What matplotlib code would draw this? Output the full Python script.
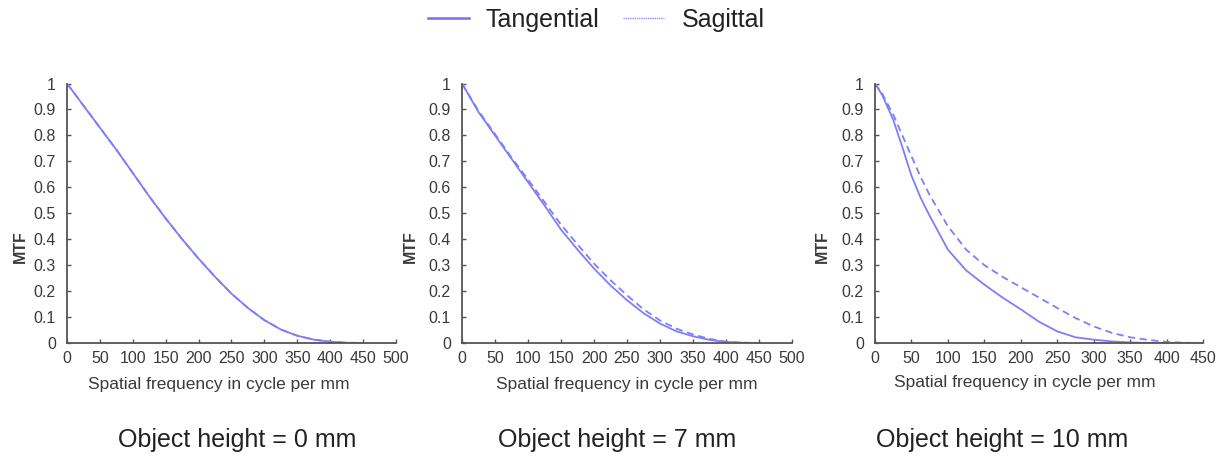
import matplotlib
matplotlib.use("Agg")
import matplotlib.pyplot as plt
from matplotlib.lines import Line2D

plt.rcParams['font.family'] = ['Liberation Sans', 'DejaVu Sans']

freq = [0, 25, 50, 75, 100, 125, 150, 175, 200, 225, 250, 275, 300, 325, 350, 375, 400, 425, 450]

tan_0 = [1.0, 0.915, 0.83, 0.745, 0.655, 0.565, 0.48, 0.40, 0.325, 0.255, 0.19, 0.135, 0.088, 0.052, 0.028, 0.013, 0.005, 0.001, 0.0]
sag_0 = [1.0, 0.915, 0.83, 0.745, 0.655, 0.565, 0.48, 0.40, 0.325, 0.255, 0.19, 0.135, 0.088, 0.052, 0.028, 0.013, 0.005, 0.001, 0.0]

tan_7 = [1.0, 0.89, 0.80, 0.71, 0.62, 0.53, 0.437, 0.36, 0.287, 0.222, 0.165, 0.115, 0.075, 0.045, 0.026, 0.012, 0.004, 0.001, 0.0]
sag_7 = [1.0, 0.895, 0.805, 0.715, 0.63, 0.543, 0.456, 0.38, 0.306, 0.242, 0.184, 0.13, 0.087, 0.055, 0.033, 0.016, 0.005, 0.001, 0.0]

freq_10 = [0, 10, 25, 37.5, 50, 62.5, 75, 100, 125, 150, 175, 200, 225, 250, 275, 300, 325, 350, 375, 400, 425, 450]
tan_10 = [1.0, 0.955, 0.86, 0.755, 0.645, 0.56, 0.49, 0.36, 0.28, 0.225, 0.175, 0.13, 0.082, 0.045, 0.022, 0.013, 0.006, 0.002, 0.0005, 0.0, 0.0, 0.0]
sag_10 = [1.0, 0.96, 0.88, 0.80, 0.72, 0.64, 0.57, 0.45, 0.36, 0.30, 0.255, 0.215, 0.175, 0.135, 0.096, 0.064, 0.039, 0.022, 0.012, 0.004, 0.001, 0.0]

panels = [
    ("Object height = 0 mm", freq, tan_0, sag_0, 500),
    ("Object height = 7 mm", freq, tan_7, sag_7, 500),
    ("Object height = 10 mm", freq_10, tan_10, sag_10, 450),
]
titles_x = [237 / 1232, 617 / 1232, 1002 / 1232]
mtf_x = [20 / 1232, 410 / 1232, 822 / 1232]
lefts = [67, 462, 875]
widths = [329, 330, 328]
xlabel_cx = [219, 627, 1025]
xlabel_cy = [385, 385, 383]

line_color = '#7f7ff5'
axis_color = '#555555'
text_color = '#3a3a3a'

fig = plt.figure(figsize=(12.32, 4.62), dpi=100)
bottom_px, top_px = 343, 83.5

for i, (title, fx, tan, sag, xmax) in enumerate(panels):
    ax = fig.add_axes([lefts[i] / 1232, 1 - bottom_px / 462, widths[i] / 1232, (bottom_px - top_px) / 462])
    ax.plot(fx, tan, color=line_color, lw=1.3)
    ax.plot(fx, sag, color=line_color, lw=1.3, ls=(0, (4, 2.5)))
    ax.set_xlim(0, xmax)
    ax.set_ylim(0, 1)
    ax.set_xticks(list(range(0, xmax + 1, 50)))
    ax.set_yticks([0, 0.1, 0.2, 0.3, 0.4, 0.5, 0.6, 0.7, 0.8, 0.9, 1])
    ax.set_yticklabels(['0', '0.1', '0.2', '0.3', '0.4', '0.5', '0.6', '0.7', '0.8', '0.9', '1'])
    for s in ['top', 'right']:
        ax.spines[s].set_visible(False)
    for s in ['left', 'bottom']:
        ax.spines[s].set_color(axis_color)
        ax.spines[s].set_linewidth(1.3)
    ax.tick_params(direction='in', length=3, width=1, color=axis_color,
                   labelsize=11.5, labelcolor=text_color)
    ax.tick_params(axis='x', pad=6)
    ax.tick_params(axis='y', pad=8)
    ax.set_xlabel('Spatial frequency in cycle per mm', fontsize=12.5, color=text_color)
    ax.xaxis.set_label_coords((xlabel_cx[i] - lefts[i]) / widths[i],
                              (bottom_px - xlabel_cy[i]) / (bottom_px - top_px))
    ax.xaxis.label.set_va('center')
    fig.text(mtf_x[i], 215 / 462, 'MTF', rotation=90, fontsize=11.5, fontweight='bold',
             color=text_color, ha='center', va='center')
    fig.text(titles_x[i], 1 - 440 / 462, title, fontsize=18, color='#222222',
             ha='center', va='center')

handles = [Line2D([0], [0], color='#6f6ff8', lw=1.8),
           Line2D([0], [0], color='#8f8ff8', lw=1.0, ls=(0, (1, 0.6)))]
fig.legend(handles, ['Tangential', 'Sagittal'], loc='center', bbox_to_anchor=(596 / 1232, 1 - 20 / 462),
           ncol=2, frameon=False, fontsize=18, handlelength=1.64, columnspacing=0.96,
           handletextpad=0.68, labelcolor='#222222')

fig.savefig('out.png', dpi=100)
